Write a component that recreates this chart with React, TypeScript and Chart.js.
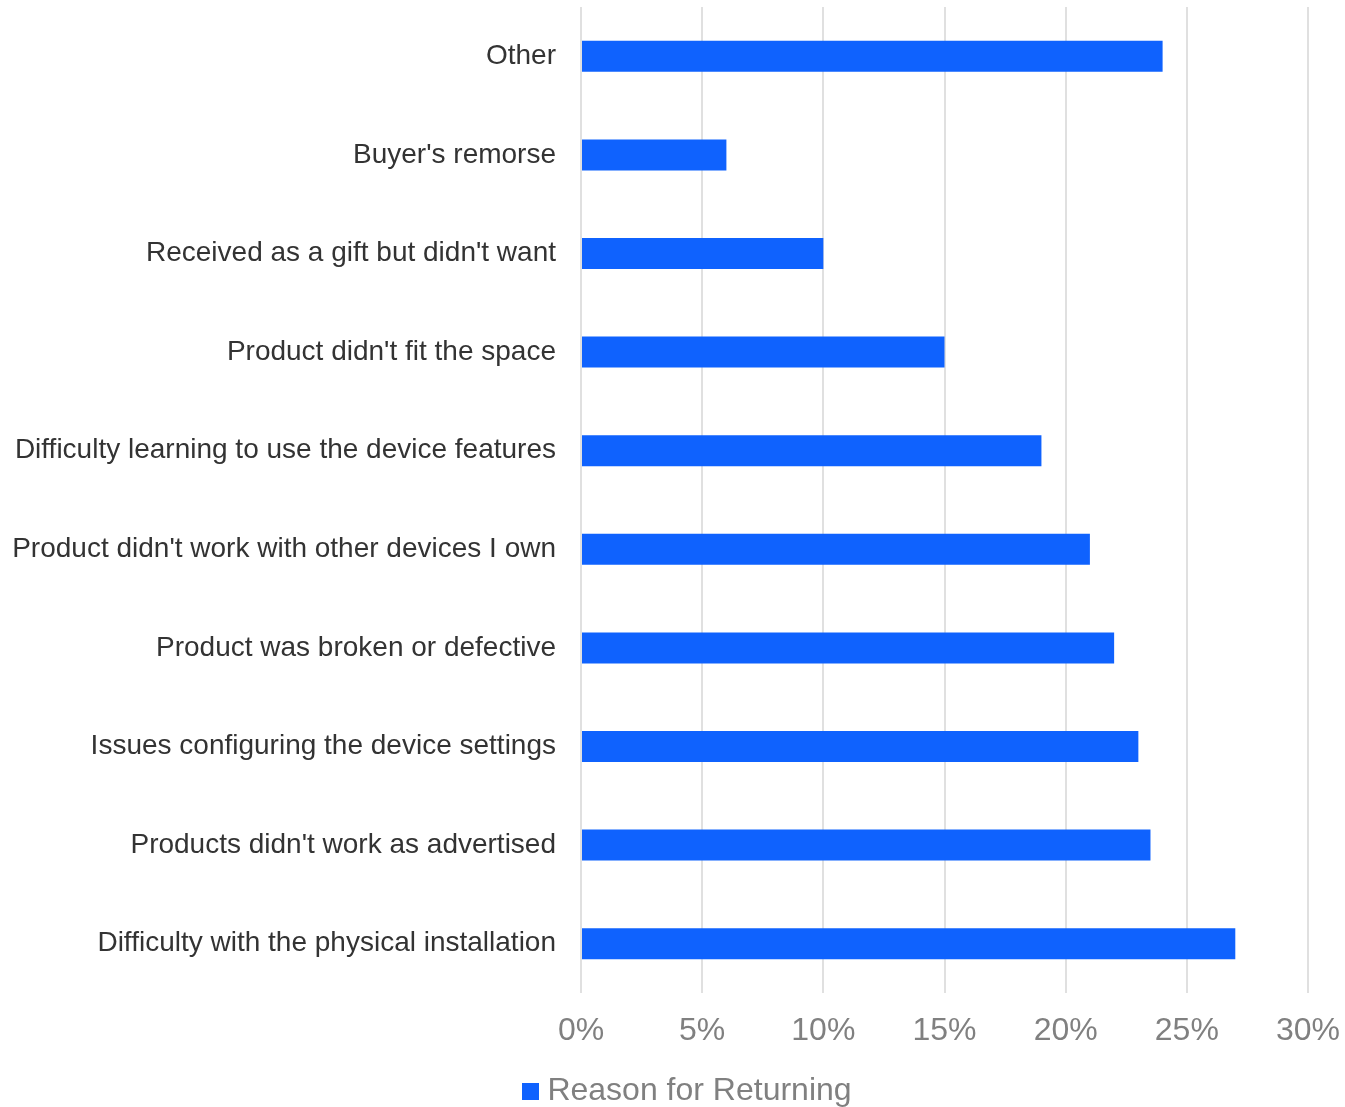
import React, { useEffect, useRef } from "react";
import { Chart, registerables } from "chart.js";

Chart.register(...registerables);

const categories = [
  "Other",
  "Buyer's remorse",
  "Received as a gift but didn't want",
  "Product didn't fit the space",
  "Difficulty learning to use the device features",
  "Product didn't work with other devices I own",
  "Product was broken or defective",
  "Issues configuring the device settings",
  "Products didn't work as advertised",
  "Difficulty with the physical installation",
];

const returnReasonValues = [0.24, 0.06, 0.1, 0.15, 0.19, 0.21, 0.22, 0.23, 0.235, 0.27];

const seriesName = "Reason for Returning";
const xTickMax = 0.3;
const xTickStep = 0.05;

const BAR_COLOR = "#0f62fe";
const FONT = "'Liberation Sans', Arial, sans-serif";
const PAD_LEFT = 10;
const PAD_RIGHT = -27;
const PLOT_RIGHT_GAP = 37;
const PLOT_LEFT = 581;
const X_AXIS_HEIGHT = 72;

export default function App() {
  const ref = useRef<HTMLCanvasElement | null>(null);

  useEffect(() => {
    if (!ref.current) return;
    const swatch = document.createElement("canvas");
    swatch.width = 17;
    swatch.height = 17;
    const sctx = swatch.getContext("2d");
    if (sctx) {
      sctx.fillStyle = BAR_COLOR;
      sctx.fillRect(0, 0, 17, 17);
    }
    const chart = new Chart(ref.current, {
      type: "bar",
      data: {
        labels: categories,
        datasets: [
          {
            label: seriesName,
            data: returnReasonValues,
            backgroundColor: BAR_COLOR,
            borderWidth: 0,
            categoryPercentage: 1,
            barPercentage: 0.314,
          },
        ],
      },
      options: {
        indexAxis: "y",
        animation: false,
        responsive: false,
        maintainAspectRatio: false,
        devicePixelRatio: 1,
        layout: { padding: { top: 7, right: PAD_RIGHT, left: PAD_LEFT, bottom: 0 } },
        plugins: {
          legend: {
            position: "bottom",
            labels: {
              usePointStyle: true,
              pointStyle: swatch as any,
              pointStyleWidth: 1,
              boxHeight: 17,
              color: "#808080",
              font: { family: FONT, size: 32 },
            },
          },
          tooltip: { enabled: false },
        },
        scales: {
          x: {
            min: 0,
            max: xTickMax,
            afterFit: (s: any) => {
              s.paddingRight = PLOT_RIGHT_GAP;
              s.paddingLeft = 0;
              s.height = X_AXIS_HEIGHT;
            },
            ticks: {
              stepSize: xTickStep,
              color: "#808080",
              padding: 19,
              maxRotation: 0,
              font: { family: FONT, size: 32 },
              callback: (v: any) => Math.round(Number(v) * 100) + "%",
            },
            grid: { color: "#e0e0e0", lineWidth: 2, drawTicks: false },
            border: { display: false },
          },
          y: {
            afterFit: (s: any) => {
              s.paddingTop = 0;
              s.paddingBottom = 0;
              s.width = PLOT_LEFT - PAD_LEFT;
            },
            ticks: {
              color: "#333333",
              padding: 25,
              font: { family: FONT, size: 28 },
            },
            grid: { display: false, drawTicks: false },
            border: { display: false },
          },
        },
      },
    });
    return () => chart.destroy();
  }, []);

  return (
    <div style={{ position: "absolute", left: 0, top: 0, width: 1345, height: 1107, overflow: "hidden", background: "#fff" }}>
      <canvas ref={ref} width={1345} height={1117} style={{ width: 1345, height: 1117, display: "block" }} />
    </div>
  );
}
